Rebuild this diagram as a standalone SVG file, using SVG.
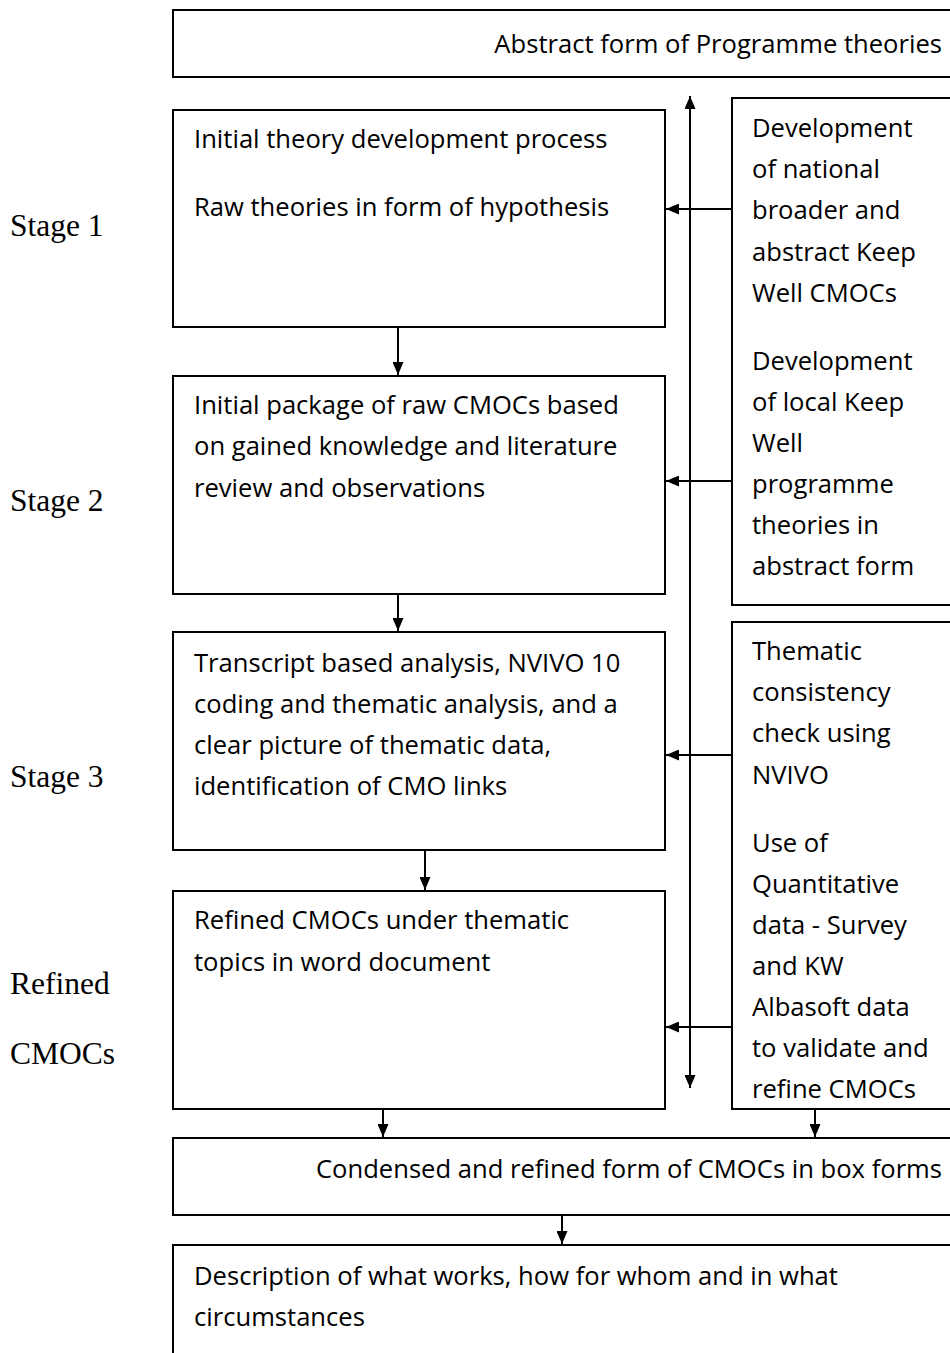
<svg xmlns="http://www.w3.org/2000/svg" width="950" height="1353" viewBox="0 0 950 1353">
<style>
.box{fill:#fff;stroke:#000;stroke-width:2}
.t{font-family:"Open Sans","Noto Sans",sans-serif;font-size:25.6px;fill:#000}
.s{font-family:"Liberation Serif",serif;font-size:31.5px;fill:#000}
.c{stroke:#000;stroke-width:2;fill:none}
</style>
<defs>
<marker id="ah" markerWidth="13" markerHeight="11" refX="13" refY="5.5" orient="auto" markerUnits="userSpaceOnUse">
<path d="M0,0 L13,5.5 L0,11 Z" fill="#000"/>
</marker>
</defs>
<rect width="950" height="1353" fill="#fff"/>
<g id="labels">
<text class="s" x="10" y="236">Stage 1</text>
<text class="s" x="10" y="511">Stage 2</text>
<text class="s" x="10" y="787">Stage 3</text>
<text class="s" x="10" y="994">Refined</text>
<text class="s" x="10" y="1064">CMOCs</text>
</g>
<g id="abstract">
<rect class="box" x="173" y="10" width="790" height="67"/>
<text class="t" x="942" y="53" text-anchor="end">Abstract form of Programme theories</text>
</g>
<g id="stage1">
<rect class="box" x="173" y="110" width="492" height="217"/>
<text class="t" x="194" y="148">Initial theory development process</text>
<text class="t" x="194" y="216">Raw theories in form of hypothesis</text>
</g>
<g id="stage2">
<rect class="box" x="173" y="376" width="492" height="218"/>
<text class="t" x="194" y="414">Initial package of raw CMOCs based</text>
<text class="t" x="194" y="455">on gained knowledge and literature</text>
<text class="t" x="194" y="497">review and observations</text>
</g>
<g id="stage3">
<rect class="box" x="173" y="632" width="492" height="218"/>
<text class="t" x="194" y="672">Transcript based analysis, NVIVO 10</text>
<text class="t" x="194" y="713">coding and thematic analysis, and a</text>
<text class="t" x="194" y="754">clear picture of thematic data,</text>
<text class="t" x="194" y="795">identification of CMO links</text>
</g>
<g id="refined">
<rect class="box" x="173" y="891" width="492" height="218"/>
<text class="t" x="194" y="929">Refined CMOCs under thematic</text>
<text class="t" x="194" y="971">topics in word document</text>
</g>
<g id="right1">
<rect class="box" x="732" y="98" width="230" height="507"/>
<text class="t" x="752" y="137">Development</text>
<text class="t" x="752" y="178">of national</text>
<text class="t" x="752" y="219">broader and</text>
<text class="t" x="752" y="261">abstract Keep</text>
<text class="t" x="752" y="302">Well CMOCs</text>
<text class="t" x="752" y="370">Development</text>
<text class="t" x="752" y="411">of local Keep</text>
<text class="t" x="752" y="452">Well</text>
<text class="t" x="752" y="493">programme</text>
<text class="t" x="752" y="534">theories in</text>
<text class="t" x="752" y="575">abstract form</text>
</g>
<g id="right2">
<rect class="box" x="732" y="622" width="230" height="487"/>
<text class="t" x="752" y="660">Thematic</text>
<text class="t" x="752" y="701">consistency</text>
<text class="t" x="752" y="742">check using</text>
<text class="t" x="752" y="784">NVIVO</text>
<text class="t" x="752" y="852">Use of</text>
<text class="t" x="752" y="893">Quantitative</text>
<text class="t" x="752" y="934">data - Survey</text>
<text class="t" x="752" y="975">and KW</text>
<text class="t" x="752" y="1016">Albasoft data</text>
<text class="t" x="752" y="1057">to validate and</text>
<text class="t" x="752" y="1098">refine CMOCs</text>
</g>
<g id="condensed">
<rect class="box" x="173" y="1138" width="790" height="77"/>
<text class="t" x="942" y="1178" text-anchor="end">Condensed and refined form of CMOCs in box forms</text>
</g>
<g id="description">
<rect class="box" x="173" y="1245" width="790" height="130"/>
<text class="t" x="194" y="1285">Description of what works, how for whom and in what</text>
<text class="t" x="194" y="1326">circumstances</text>
</g>
<g id="connectors">
<line class="c" x1="690" y1="600" x2="690" y2="96" marker-end="url(#ah)"/>
<line class="c" x1="690" y1="600" x2="690" y2="1088" marker-end="url(#ah)"/>
<line class="c" x1="398" y1="327" x2="398" y2="375" marker-end="url(#ah)"/>
<line class="c" x1="398" y1="594" x2="398" y2="631" marker-end="url(#ah)"/>
<line class="c" x1="425" y1="850" x2="425" y2="890" marker-end="url(#ah)"/>
<line class="c" x1="383" y1="1109" x2="383" y2="1137" marker-end="url(#ah)"/>
<line class="c" x1="815" y1="1109" x2="815" y2="1137" marker-end="url(#ah)"/>
<line class="c" x1="562" y1="1215" x2="562" y2="1244" marker-end="url(#ah)"/>
<line class="c" x1="732" y1="209" x2="666" y2="209" marker-end="url(#ah)"/>
<line class="c" x1="732" y1="481" x2="666" y2="481" marker-end="url(#ah)"/>
<line class="c" x1="732" y1="755" x2="666" y2="755" marker-end="url(#ah)"/>
<line class="c" x1="732" y1="1027" x2="666" y2="1027" marker-end="url(#ah)"/>
</g>
</svg>
